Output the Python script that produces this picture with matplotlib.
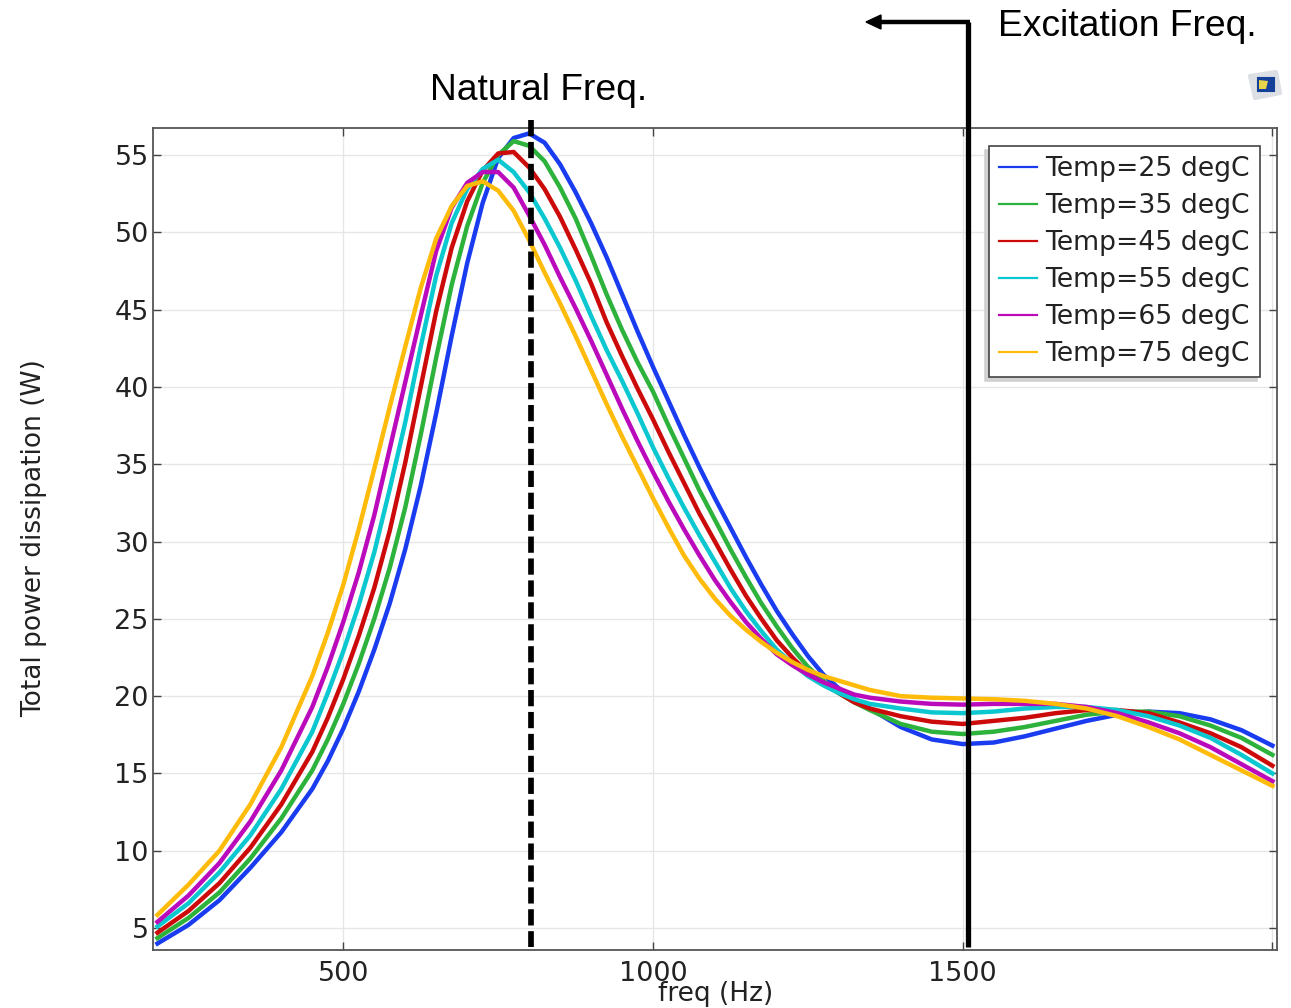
import matplotlib
matplotlib.use('Agg')
import matplotlib.pyplot as plt
from matplotlib.patches import FancyBboxPatch, Polygon

W=1291
H=1008

freq=[200,250,300,350,400,450,
      475,500,525,550,575,600,625,650,675,700,
      725,750,775,800,825,850,875,900,925,950,
      975,1000,1025,1050,1075,1100,1125,1150,1175,1200,
      1225,1250,1275,1300,1325,1350,
      1400,1450,1500,1550,1600,1650,1700,1750,1800,1850,1900,1950,2000]

t25=[4.0,5.2,6.8,8.9,11.2,14.0,
     15.8,17.9,20.3,23.0,26.0,29.5,33.6,38.3,43.3,48.0,
     51.9,54.8,56.1,56.4,55.8,54.4,52.6,50.6,48.4,46.0,
     43.6,41.3,39.1,36.9,34.8,32.8,30.9,29.0,27.2,25.5,
     24.0,22.6,21.4,20.5,19.8,19.2,
     18.0,17.2,16.9,17.0,17.4,17.9,18.4,18.8,19.0,18.9,18.5,17.8,16.8]
t35=[4.35,5.65,7.3,9.5,12.1,15.2,
     17.2,19.5,22.1,25.0,28.3,32.2,36.9,41.9,46.6,50.4,
     53.2,55.0,55.9,55.6,54.6,52.9,50.9,48.5,46.0,43.7,
     41.6,39.7,37.5,35.4,33.3,31.4,29.5,27.7,26.0,24.5,
     23.1,21.9,21.0,20.2,19.6,19.1,
     18.2,17.7,17.55,17.7,18.0,18.4,18.8,19.0,19.0,18.7,18.1,17.3,16.2]
t45=[4.7,6.1,7.9,10.2,13.0,16.4,
     18.6,21.1,23.9,27.0,30.7,35.1,40.0,44.9,49.0,52.0,
     54.0,55.1,55.2,54.2,52.8,51.0,48.9,46.7,44.2,42.0,
     39.9,37.9,35.8,33.8,31.8,30.0,28.2,26.5,25.0,23.6,
     22.5,21.5,20.8,20.2,19.6,19.2,
     18.7,18.35,18.2,18.4,18.6,18.9,19.1,19.1,18.9,18.3,17.6,16.7,15.5]
t55=[5.1,6.6,8.6,11.0,14.0,17.7,
     20.2,22.9,25.9,29.3,33.4,37.7,42.6,47.2,50.6,52.8,
     54.1,54.7,53.9,52.6,50.9,49.0,46.9,44.6,42.4,40.4,
     38.3,36.1,34.1,32.2,30.4,28.7,27.0,25.5,24.2,23.0,
     22.1,21.3,20.7,20.2,19.8,19.5,
     19.2,18.95,18.9,19.0,19.2,19.3,19.3,19.1,18.7,18.1,17.3,16.2,15.0]
t65=[5.4,7.1,9.2,11.9,15.2,19.3,
     21.9,24.8,28.0,31.7,36.0,40.3,44.6,48.8,51.6,53.2,
     53.9,53.9,52.9,51.1,49.2,47.1,45.1,43.0,40.8,38.6,
     36.5,34.5,32.6,30.8,29.1,27.5,26.1,24.8,23.7,22.7,
     22.0,21.4,20.9,20.5,20.1,19.9,
     19.65,19.5,19.45,19.5,19.5,19.5,19.3,18.9,18.3,17.6,16.7,15.6,14.5]
t75=[5.85,7.8,10.0,13.0,16.7,21.3,
     24.1,27.2,30.8,34.7,38.7,42.6,46.4,49.6,51.7,53.0,
     53.3,52.7,51.4,49.5,47.4,45.4,43.3,41.1,38.9,36.8,
     34.8,32.8,30.9,29.1,27.6,26.3,25.2,24.3,23.5,22.8,
     22.2,21.7,21.3,21.0,20.7,20.4,
     20.0,19.9,19.85,19.8,19.7,19.5,19.2,18.7,18.0,17.2,16.2,15.2,14.2]

series=[t25,t35,t45,t55,t65,t75]
names=['Temp=25 degC','Temp=35 degC','Temp=45 degC','Temp=55 degC','Temp=65 degC','Temp=75 degC']
colors=['#1a3cf0','#2db23c','#cc0a0a','#0bc8d0','#bb0abb','#ffbb0a']
xticks=[500,1000,1500,2000]
xticklabels=['500','1000','1500','']
yticks=[5,10,15,20,25,30,35,40,45,50,55]
natural_freq=803
excitation_freq=1508.5

# pixel helpers, y counted from the top like in the reference
def fx(px):
    return px/W
def fy(py):
    return 1-py/H

fig=plt.figure(figsize=(W/100,H/100),dpi=100)
ax=fig.add_axes([fx(153),fy(950),(1277-153)/W,(950-128)/H])

for vals,name,c in zip(series,names,colors):
    ax.plot(freq,vals,color=c,lw=3.2,label=name,solid_joinstyle='round')

ax.set_xlim(192.8,2007.4)
ax.set_ylim(3.58,56.75)
ax.set_xticks(xticks)
ax.set_xticklabels(xticklabels)
ax.set_yticks(yticks)
ax.grid(True,color='#e6e6e6',lw=1)
ax.set_axisbelow(True)
ax.tick_params(axis='both',direction='in',length=6,width=1,color='#444444',top=True,right=True,
               labelsize=19.5,labelcolor='#222222')
ax.tick_params(axis='x',pad=8)
ax.tick_params(axis='y',pad=3)
for s in ax.spines.values():
    s.set_color('#555555')
    s.set_linewidth(1.3)

leg=ax.legend(loc='upper left',bbox_to_anchor=((989-153)/(1277-153),(950-146)/(950-128)),fontsize=19.2,
              fancybox=False,edgecolor='#444444',framealpha=1,labelcolor='#222222',
              shadow={'ox':-2.6,'oy':-2.6,'color':'#cfcfcf','alpha':0.9},
              borderaxespad=0,handlelength=1.42,handletextpad=0.3,labelspacing=0.41,borderpad=0.39)
leg.get_frame().set_linewidth(1.2)
for line in leg.get_lines():
    line.set_linewidth(1.6)

fig.text(fx(34),fy(538),'Total power dissipation (W)',rotation=90,ha='center',va='center',fontsize=19,color='#222222')
fig.text(fx(716),fy(994),'freq (Hz)',ha='center',va='center',fontsize=19,color='#222222')

# annotations put on top of the exported plot
ann=dict(family='Liberation Sans',color='black',fontsize=26.8,ha='left',va='center')
fig.text(fx(430),fy(91),'Natural Freq.',**ann)
fig.text(fx(998),fy(27),'Excitation Freq.',**ann)

xform=ax.get_xaxis_transform()
# drawn from the top so the dash pattern starts there
ax.plot([natural_freq,natural_freq],[1.01,0.004],transform=xform,color='black',lw=4.1,
        linestyle=(0,(2.85,1.0)),clip_on=False,zorder=6)
ax.plot([excitation_freq,excitation_freq],[0.004,(950-22)/(950-128)],transform=xform,color='black',lw=3.8,
        clip_on=False,zorder=6,solid_capstyle='butt')
fig.add_artist(plt.Line2D([fx(970),fx(878)],[fy(22),fy(22)],color='black',lw=3.2,solid_capstyle='butt'))
fig.add_artist(Polygon([[fx(866),fy(22)],[fx(881),fy(15)],[fx(881),fy(29)]],closed=True,transform=fig.transFigure,color='black'))

# small logo in the corner
fig.add_artist(Polygon([[fx(1250),fy(76)],[fx(1276),fy(72)],[fx(1280),fy(93)],[fx(1255),fy(98)]],closed=True,
                       transform=fig.transFigure,facecolor='#dcdfe3',edgecolor='#dcdfe3',lw=3,joinstyle='round'))
fig.add_artist(FancyBboxPatch((fx(1258),fy(91)),16/W,13/H,boxstyle='round,pad=0',transform=fig.transFigure,
                              facecolor='#15409a',edgecolor='#15409a',lw=1.5))
fig.add_artist(Polygon([[fx(1259),fy(80)],[fx(1268),fy(81)],[fx(1266),fy(89)],[fx(1259),fy(89)]],closed=True,
                       transform=fig.transFigure,facecolor='#e8d44a',edgecolor='none'))

fig.savefig('out.png',dpi=100)
